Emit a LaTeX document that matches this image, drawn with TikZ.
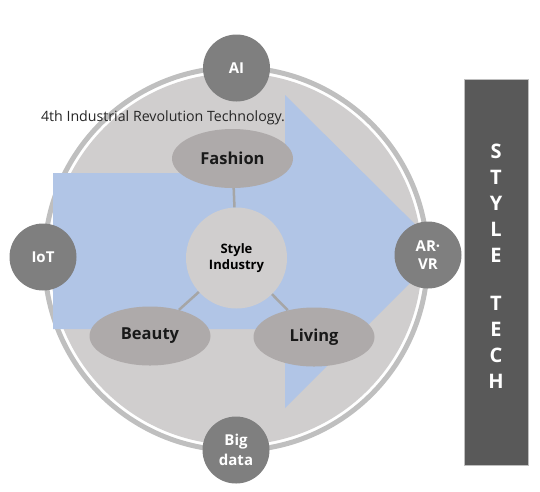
\documentclass[tikz,border=0pt]{standalone}
\usepackage{fontspec}
\setmainfont{Open Sans}
\usetikzlibrary{shapes.geometric}
\definecolor{ringgray}{HTML}{BFBFBF}
\definecolor{diskgray}{HTML}{D0CECE}
\definecolor{arrowblue}{HTML}{B1C5E6}
\definecolor{topicgray}{HTML}{AEAAAA}
\definecolor{satgray}{HTML}{7F7F7F}
\definecolor{bargray}{HTML}{595959}
\definecolor{linkgray}{HTML}{A6A6A6}
\begin{document}
\begin{tikzpicture}[x=1pt,y=-1pt,
    sat/.style={circle, fill=satgray, minimum size=67pt, inner sep=0pt,
        text=white, align=center, font=\bfseries\fontsize{15}{18}\selectfont},
    topic/.style={ellipse, fill=topicgray, minimum width=121pt, minimum height=59pt,
        inner sep=0pt, text=black!90, font=\bfseries\fontsize{16.5}{19}\selectfont},
    link/.style={draw=linkgray, line width=2.5pt},
    techletter/.style={text=white, font=\bfseries\fontsize{20}{24}\selectfont}]
    \useasboundingbox (0,0) rectangle (540,491);

    % ring and disk
    \draw[ringgray, line width=5pt] (236,259) circle[radius=191.5];
    \fill[diskgray] (236,259) circle[radius=186];

    % big arrow
    \fill[arrowblue] (53,173) -- (285,173) -- (285,95) -- (442,251)
        -- (285,408) -- (285,329) -- (53,329) -- cycle;

    % hub and topics
    \node[circle, fill=diskgray, minimum size=101pt, inner sep=0pt, align=center,
        font=\bfseries\fontsize{13}{16}\selectfont] (hub) at (236.5,258) {Style\\Industry};
    \node[topic] (fashion) at (232.5,158.5) {Fashion};
    \node[topic] (beauty) at (150,336) {Beauty};
    \node[topic] (living) at (314,337) {Living};

    \draw[link] (hub) -- (fashion);
    \draw[link] (hub) -- (beauty);
    \draw[link] (hub) -- (living);

    % technologies round the ring
    \node[sat] (ai) at (236.5,68) {AI};
    \node[sat] (iot) at (43,257) {IoT};
    \node[sat, font=\bfseries\fontsize{15}{18}\selectfont] (arvr) at (428,255) {AR·\\VR};
    \node[sat, font=\bfseries\fontsize{15}{20}\selectfont] (bigdata) at (236,450) {Big\\data};

    \node[font=\fontsize{14.2}{16}\selectfont, text=black!85] (title) at (163,118)
        {4th Industrial Revolution Technology.};

    % side bar
    \draw[fill=bargray, draw=ringgray, line width=0.6pt] (464,79) rectangle (528,465);
    \foreach \ch/\yy in {S/151, T/177, Y/203, L/229, E/255, T/303, E/329, C/355, H/381}
        \node[techletter] (tech-\yy) at (496,\yy) {\ch};
\end{tikzpicture}
\end{document}
